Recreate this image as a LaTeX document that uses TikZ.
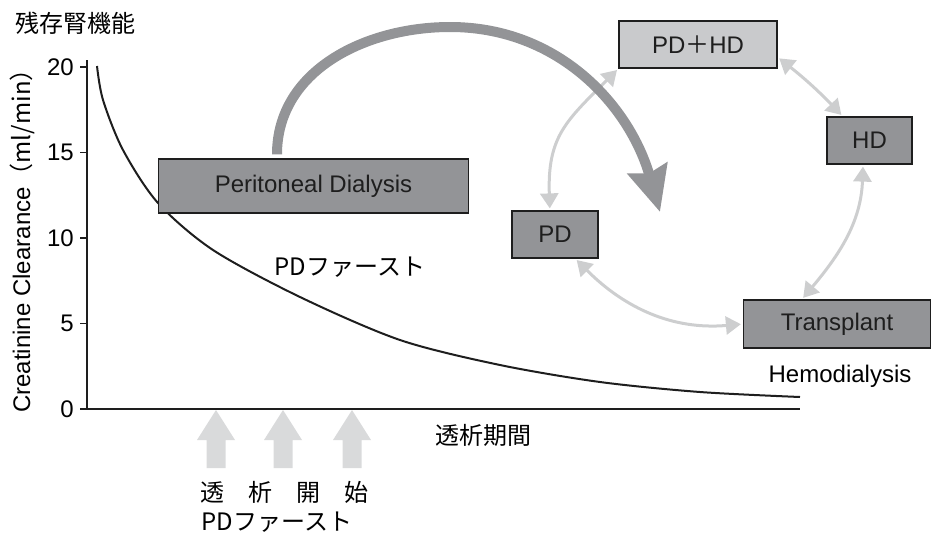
\documentclass[tikz,border=0pt]{standalone}
\usepackage{fontspec}
\setmainfont{Liberation Sans}
\newfontfamily\jp{Noto Sans CJK JP}
\usetikzlibrary{arrows.meta}
\definecolor{boxgray}{HTML}{939497}
\definecolor{boxlight}{HTML}{C9CACC}
\definecolor{linkgray}{HTML}{CDCECF}
\definecolor{upgray}{HTML}{D9DADB}
\definecolor{inkdark}{HTML}{1E1E1E}
\begin{document}
\begin{tikzpicture}[x=1pt,y=-1pt,
		font=\fontsize{24}{28}\selectfont,
		darkbox/.style={draw=inkdark,line width=1.2pt,fill=boxgray,text=inkdark,inner sep=0pt},
		lightbox/.style={darkbox,fill=boxlight},
		link/.style={draw=linkgray,line width=3pt,
			{Triangle[length=15pt,width=18pt]}-{Triangle[length=15pt,width=18pt]},
			shorten <=2pt,shorten >=2pt},
		bigarrow/.style={draw=boxgray,line width=10pt,-{Stealth[length=45pt,width=40pt,inset=5pt]}},
		axis/.style={draw=inkdark,line width=1.1pt}
		]
		\useasboundingbox (0,0) rectangle (932,539);
		% axes
		\coordinate (o) at (87,409);
		\coordinate (ytop) at (87,60);
		\coordinate (xend) at (800,409);
		\draw[axis] (ytop) -- (o) -- (xend);
		\foreach \v in {0,5,10,15,20}{
			\draw[axis] (80,{409-17.1*\v}) -- (87,{409-17.1*\v});
			\node[anchor=east,inner sep=0pt] (tick\v) at (74,{409-17.1*\v}) {\v};
		}
		\node[rotate=90] (ylab) at (22,235) {Creatinine Clearance{\jp（ml/min）}};
		\node[anchor=west,inner sep=0pt] (ylabjp) at (15,23) {\jp 残存腎機能};
		\node (xlab) at (483,435) {\jp 透析期間};
		% decline curve
		\draw[line width=2pt,inkdark] plot[smooth] coordinates {(97,66) (103,100) (123,150)
			(158,203) (213,250) (300,297) (400,340) (500,365) (600,382) (700,392) (800,397)};
		\node (pdfirst) at (350,267) {\jp PDファースト};
		\node (hemo) at (840,376) {Hemodialysis};
		% start arrows
		\foreach \x in {216,283,352}
			\fill[upgray] ({\x-19},440) -- (\x,410) -- ({\x+19},440) -- ({\x+9.5},440)
				-- ({\x+9.5},468) -- ({\x-9.5},468) -- ({\x-9.5},440) -- cycle;
		\node (start) at (284,492) {\jp 透　析　開　始};
		\node (startpd) at (277,522) {\jp PDファースト};
		% modality boxes
		\node[darkbox,minimum width=310pt,minimum height=54pt] (pdbox) at (313.5,186) {Peritoneal Dialysis};
		\node[lightbox,minimum width=158pt,minimum height=47pt] (pdhd) at (698,44.5) {PD{\jp ＋}HD};
		\node[darkbox,minimum width=85pt,minimum height=47pt] (hd) at (869.5,140.5) {HD};
		\node[darkbox,minimum width=86pt,minimum height=47pt] (pd) at (555,234.5) {PD};
		\node[darkbox,minimum width=187pt,minimum height=48pt] (tr) at (837,324) {Transplant};
		% transitions
		\draw[link] (pd.102) to[out=92,in=225,looseness=1.2] (pdhd.south west);
		\draw[link] (pdhd.-9) to[bend left=4] (hd.138);
		\draw[link] (hd.-105) to[out=-92,in=50] (tr.145);
		\draw[link] (pd.-50) to[out=-45,in=185] (tr.west);
		% big arrow
		\coordinate (arctop) at (450,27);
		\coordinate (arcend) at (660,212);
		\draw[bigarrow] ([xshift=-36.5pt,yshift=4pt]pdbox.north) to[out=90,in=180] (arctop)
			to[out=0,in=106] (arcend);
	\end{tikzpicture}
\end{document}
